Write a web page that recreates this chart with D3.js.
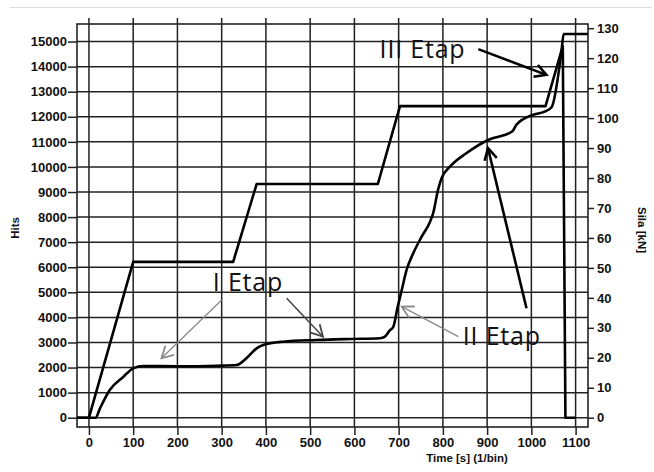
<!DOCTYPE html>
<html>
<head>
<meta charset="utf-8">
<script src="https://cdn.jsdelivr.net/npm/d3@7.9.0/dist/d3.min.js"></script>
<style>
  body { margin: 0; background: #fff; }
  svg { display: block; }
  .tick text { font-family: "Liberation Sans", Arial, sans-serif; font-weight: bold; font-size: 13px; fill: #111; }
  .tick line { stroke: #222; stroke-width: 1.5; }
  .title { font-family: "Liberation Sans", Arial, sans-serif; font-weight: bold; font-size: 11.5px; fill: #111; }
  .note { font-family: "Open Sans", sans-serif; font-size: 25px; letter-spacing: 0.8px; fill: #111; }
</style>
</head>
<body>
<svg id="chart" width="654" height="472"></svg>
<script>
// cumulative hits, left axis
const hitsTime = [-27, 15, 25, 47, 78, 100, 123, 200, 289, 334, 356, 379, 394, 439, 514, 590, 658, 669, 680, 688, 697, 707, 718, 733, 752, 771, 778, 789, 797, 816, 853, 906, 950, 958, 966, 1003, 1030, 1046, 1068, 1073, 1128];
const hitsValue = [0, 0, 375, 1105, 1636, 1970, 2062, 2050, 2074, 2103, 2370, 2768, 2900, 3032, 3099, 3139, 3167, 3231, 3480, 3630, 4350, 5094, 5891, 6558, 7220, 7818, 8153, 9083, 9549, 10012, 10546, 11105, 11350, 11435, 11675, 12074, 12206, 12393, 14600, 15300, 15300];

// force, right axis
const forceTime = [-27, 0, 100, 326, 379, 653, 703, 1032, 1071, 1077, 1100];
const forceValue = [0, 0, 52, 52, 78, 78, 104, 104, 124, 0, 0];

const timeTicks = [0, 100, 200, 300, 400, 500, 600, 700, 800, 900, 1000, 1100];
const hitsTicks = d3.range(0, 15001, 1000);
const forceTicks = d3.range(0, 131, 10);

// annotations: label anchor and arrows [fromTime, fromHits, toTime, toHits, kind]
const labels = [
  { text: "I Etap", t: 280, h: 5040 },
  { text: "II Etap", t: 845, h: 2880 },
  { text: "III Etap", t: 657, h: 14360 }
];
const arrows = [
  [300, 4694, 164, 2370, "thin"],
  [447, 4763, 529, 3231, "mid"],
  [835, 3231, 707, 4428, "thin"],
  [989, 4364, 902, 10747, "bold"],
  [880, 14697, 1034, 13671, "bold"]
];

const svg = d3.select("#chart");
const plotLeft = 77, plotRight = 588, plotTop = 24, plotBottom = 427;

const x = d3.scaleLinear().domain([-27, 1128]).range([plotLeft, plotRight]);
const y = d3.scaleLinear().domain([-370, 15700]).range([plotBottom, plotTop]);
const y2 = d3.scaleLinear().domain([-3.1, 131.4]).range([plotBottom, plotTop]);

svg.append("line")
  .attr("x1", 10).attr("x2", 652).attr("y1", 7.5).attr("y2", 7.5)
  .attr("stroke", "#ddd");

// grid
svg.append("g").selectAll("line").data(timeTicks).join("line")
  .attr("x1", d => x(d)).attr("x2", d => x(d))
  .attr("y1", plotTop - 6).attr("y2", plotBottom)
  .attr("stroke", "#222").attr("stroke-width", 1.5);
svg.append("g").selectAll("line").data(hitsTicks).join("line")
  .attr("x1", plotLeft).attr("x2", plotRight)
  .attr("y1", d => y(d)).attr("y2", d => y(d))
  .attr("stroke", "#222").attr("stroke-width", 1.5);

svg.append("rect")
  .attr("x", plotLeft).attr("y", plotTop)
  .attr("width", plotRight - plotLeft).attr("height", plotBottom - plotTop)
  .attr("fill", "none").attr("stroke", "#222").attr("stroke-width", 1.6);

// axes
const fmt = d3.format("d");
svg.append("g").attr("transform", `translate(${plotLeft},0)`)
  .call(d3.axisLeft(y).tickValues(hitsTicks).tickFormat(fmt).tickSizeInner(9).tickSizeOuter(0).tickPadding(1))
  .call(g => g.select(".domain").remove());
svg.append("g").attr("transform", `translate(0,${plotBottom})`)
  .call(d3.axisBottom(x).tickValues(timeTicks).tickFormat(fmt).tickSizeInner(8).tickSizeOuter(0).tickPadding(3))
  .call(g => g.select(".domain").remove());
svg.append("g").attr("transform", `translate(${plotRight},0)`)
  .call(d3.axisRight(y2).tickValues(forceTicks).tickFormat(fmt).tickSizeInner(6).tickSizeOuter(0).tickPadding(3))
  .call(g => g.select(".domain").remove());

svg.append("text").attr("class", "title")
  .attr("x", 467).attr("y", 462).attr("text-anchor", "middle")
  .text("Time [s] (1/bin)");
svg.append("text").attr("class", "title")
  .attr("transform", "translate(19,228) rotate(-90)").attr("text-anchor", "middle")
  .text("Hits");
svg.append("text").attr("class", "title")
  .attr("transform", "translate(638,230) rotate(90)").attr("text-anchor", "middle")
  .text("Sila [kN]");

// series
const hitsLine = d3.line().x(d => x(d[0])).y(d => y(d[1])).curve(d3.curveMonotoneX);
svg.append("path")
  .attr("d", hitsLine(d3.zip(hitsTime, hitsValue)))
  .attr("fill", "none").attr("stroke", "#000").attr("stroke-width", 2.6)
  .attr("stroke-linejoin", "round");

const forceLine = d3.line().x(d => x(d[0])).y(d => y2(d[1]));
svg.append("path")
  .attr("d", forceLine(d3.zip(forceTime, forceValue)))
  .attr("fill", "none").attr("stroke", "#000").attr("stroke-width", 2.6)
  .attr("stroke-linejoin", "round");

// annotations
const arrowStyle = {
  thin: { color: "#8a8a8a", width: 1.3 },
  mid: { color: "#444", width: 1.5 },
  bold: { color: "#000", width: 2.6 }
};
arrows.forEach(([t0, h0, t1, h1, kind]) => {
  const s = arrowStyle[kind];
  const x0 = x(t0), y0 = y(h0), x1 = x(t1), y1 = y(h1);
  const a = Math.atan2(y0 - y1, x0 - x1);
  const len = 13, spread = 0.5;
  const head = [
    [x1 + len * Math.cos(a - spread), y1 + len * Math.sin(a - spread)],
    [x1, y1],
    [x1 + len * Math.cos(a + spread), y1 + len * Math.sin(a + spread)]
  ];
  svg.append("line")
    .attr("x1", x0).attr("y1", y0).attr("x2", x1).attr("y2", y1)
    .attr("stroke", s.color).attr("stroke-width", s.width);
  svg.append("path")
    .attr("d", d3.line()(head))
    .attr("fill", "none").attr("stroke", s.color)
    .attr("stroke-width", Math.max(s.width, 1.8));
});

svg.selectAll(".note").data(labels).join("text")
  .attr("class", "note")
  .attr("x", d => x(d.t)).attr("y", d => y(d.h))
  .text(d => d.text);
</script>
</body>
</html>
